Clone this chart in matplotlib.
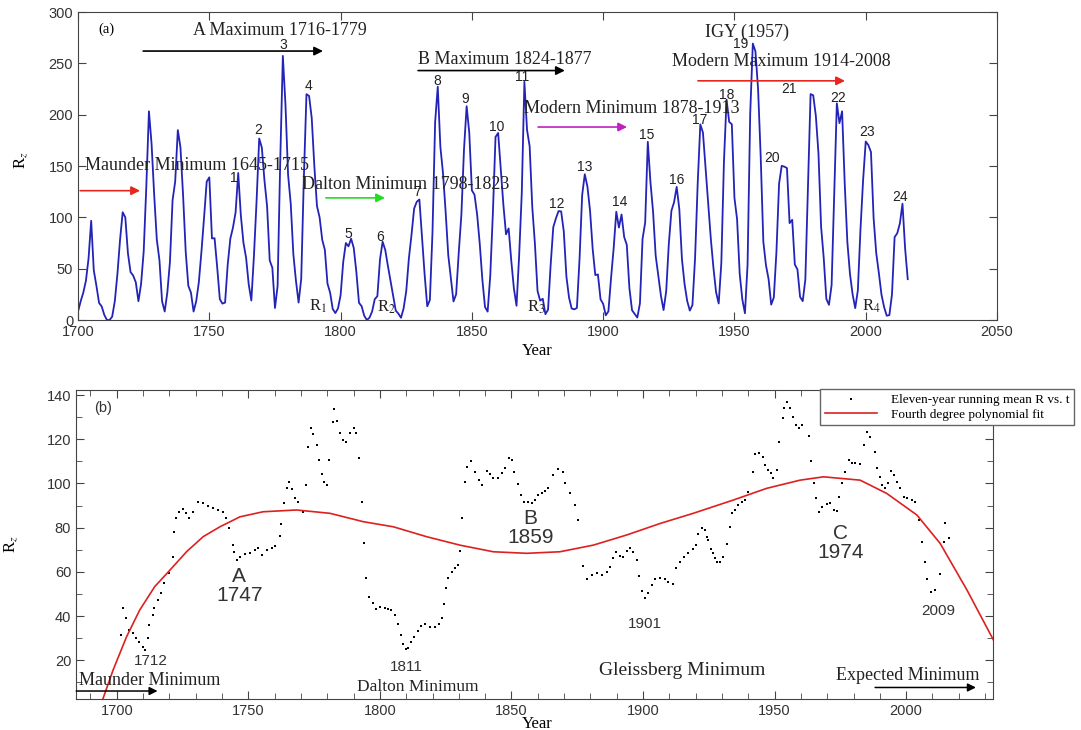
import numpy as np
import matplotlib
matplotlib.use("Agg")
import matplotlib.pyplot as plt
from matplotlib.ticker import MultipleLocator

plt.rcParams['font.family'] = ['Liberation Sans', 'DejaVu Sans']
plt.rcParams['mathtext.fontset'] = 'stix'

SERIF = ['Liberation Serif', 'DejaVu Serif']

# --- panel (a): yearly sunspot number, 1700-2016 ---
years_a = np.arange(1700, 2017)
rz_yearly = [
    8.3, 18.3, 26.7, 38.3, 60.0, 96.7, 48.3, 33.3, 16.7, 13.3,
    5.0, 0.0, 0.0, 3.3, 18.3, 45.0, 78.3, 105.0, 100.0, 65.0,
    46.7, 43.3, 36.7, 18.3, 35.0, 66.7, 130.0, 203.3, 171.7, 121.7,
    78.3, 58.3, 18.3, 8.3, 26.7, 56.7, 116.7, 135.0, 185.0, 168.3,
    121.7, 66.7, 33.3, 26.7, 8.3, 18.3, 36.7, 66.7, 100.0, 134.8,
    139.0, 79.5, 79.7, 51.2, 20.3, 16.0, 17.0, 54.0, 79.3, 90.0,
    104.8, 143.2, 102.0, 75.2, 60.7, 34.8, 19.0, 63.0, 116.3, 176.8,
    168.0, 136.0, 110.8, 58.0, 51.0, 11.7, 33.0, 154.2, 257.3, 209.8,
    141.3, 113.5, 64.2, 38.0, 17.0, 40.2, 138.2, 220.0, 218.2, 196.8,
    149.8, 111.0, 100.0, 78.2, 68.3, 35.5, 26.7, 10.7, 6.8, 11.3,
    24.2, 56.7, 75.0, 71.8, 79.2, 70.3, 46.8, 16.8, 13.5, 4.2,
    0.0, 2.3, 8.3, 20.3, 23.2, 59.0, 76.3, 68.3, 52.9, 38.5,
    24.2, 9.2, 6.3, 2.2, 11.4, 28.2, 59.9, 83.0, 108.5, 115.2,
    117.4, 80.8, 44.3, 13.4, 19.5, 85.8, 192.7, 227.3, 168.7, 143.0,
    105.5, 63.3, 40.3, 18.1, 25.1, 65.8, 102.7, 166.3, 208.3, 182.5,
    126.3, 122.0, 102.7, 74.1, 39.0, 12.7, 8.2, 43.4, 104.4, 178.3,
    182.2, 146.6, 112.1, 83.5, 89.2, 57.8, 30.7, 13.9, 62.8, 123.6,
    232.0, 185.3, 169.2, 110.1, 74.5, 28.3, 18.9, 20.7, 5.7, 10.0,
    53.7, 90.5, 99.0, 106.1, 105.8, 86.3, 42.4, 21.8, 11.2, 10.4,
    11.8, 59.5, 121.7, 142.0, 130.0, 106.6, 69.4, 43.8, 44.4, 20.2,
    15.7, 4.6, 8.5, 40.8, 70.1, 105.5, 90.1, 102.8, 80.9, 73.2,
    30.9, 9.5, 6.0, 2.4, 16.1, 79.0, 95.0, 173.6, 134.6, 105.7,
    62.7, 43.5, 23.7, 9.7, 27.9, 74.0, 106.5, 114.7, 129.7, 108.2,
    59.4, 35.1, 18.6, 9.2, 14.6, 60.2, 132.8, 190.6, 182.6, 148.0,
    113.0, 79.2, 50.8, 27.1, 16.1, 55.3, 154.3, 214.7, 193.0, 190.7,
    118.9, 98.3, 45.0, 20.1, 6.6, 54.2, 200.7, 269.3, 261.7, 225.1,
    159.0, 76.4, 53.4, 39.9, 15.0, 22.0, 66.8, 132.9, 150.2, 149.4,
    148.0, 94.4, 97.6, 54.1, 49.2, 22.5, 18.4, 39.3, 131.0, 220.1,
    218.9, 198.9, 162.4, 91.0, 60.5, 20.6, 14.8, 33.9, 123.0, 211.1,
    191.8, 203.3, 133.0, 76.1, 44.9, 25.1, 11.6, 28.9, 88.3, 136.3,
    173.9, 170.4, 163.6, 99.3, 65.3, 45.8, 24.7, 12.6, 4.2, 4.8,
    24.9, 80.8, 84.5, 94.0, 113.3, 69.8, 39.8,
]

# cycle numbers and where they sit (year, value)
cycle_labels = [str(i) for i in range(1, 25)]
cycle_x = [1759.4, 1768.5, 1778, 1787.6, 1802.8, 1815, 1829, 1836.7, 1847.4, 1859.5,
           1869, 1882.4, 1893, 1906.4, 1916.7, 1928.1, 1936.9, 1947.1, 1952.5, 1964.3,
           1970.7, 1989.4, 2000.4, 2013]
cycle_y = [138, 185, 268, 228, 84, 81, 125, 233, 215, 188,
           237, 113, 149, 115, 180, 136, 195, 219, 269, 158,
           225, 216, 183, 120]

# period names, arrows (start year, end year, level), colours
period_text = ["A Maximum 1716-1779", "Maunder Minimum 1645-1715", "Dalton Minimum 1798-1823",
               "B Maximum 1824-1877", "Modern Minimum 1878-1913", "Modern Maximum 1914-2008"]
period_text_x = [1743.8, 1702.5, 1785.3, 1829.5, 1869.8, 1926.2]
period_text_y = [282, 151, 132, 254, 206, 252]
arrow_x0 = [1724.8, 1700.8, 1794.4, 1829.5, 1875.2, 1936.1]
arrow_x1 = [1793.3, 1723.6, 1816.9, 1885.4, 1909.1, 1992.1]
arrow_y = [262, 126, 119, 243, 188, 233]
arrow_colors = ['black', '#e8251f', '#22dd22', 'black', '#c21fc2', '#e8251f']

minima_labels = ["R$_1$", "R$_2$", "R$_3$", "R$_4$"]
minima_x = [1791.4, 1817.5, 1874.5, 2002.3]
minima_y = [13, 12, 12, 13]

# --- panel (b): eleven-year running mean and 4th degree fit ---
mean_years = [
    1701.5, 1702.2, 1703.4, 1704.7, 1706.0, 1707.2, 1708.5, 1709.8, 1710.6, 1711.7,
    1712.3, 1713.6, 1714.2, 1715.5, 1716.7, 1718.0, 1719.9, 1721.2, 1721.8, 1722.4,
    1723.7, 1725.0, 1726.2, 1727.5, 1728.8, 1730.7, 1732.6, 1734.5, 1736.4, 1738.3,
    1740.2, 1741.4, 1742.5, 1744.0, 1744.6, 1745.5, 1746.8, 1748.7, 1750.6, 1752.5,
    1753.7, 1755.2, 1756.9, 1758.8, 1760.3, 1762.0, 1762.6, 1763.6, 1764.8, 1765.5,
    1766.7, 1767.9, 1768.9, 1770.6, 1772.1, 1772.7, 1774.0, 1774.6, 1776.2, 1776.8,
    1778.1, 1778.8, 1780.0, 1780.7, 1782.0, 1782.6, 1783.8, 1784.8, 1786.0, 1787.3,
    1788.6, 1790.1, 1791.1, 1792.1, 1793.3, 1794.0, 1794.9, 1795.9, 1797.2, 1798.4,
    1800.0, 1801.9, 1803.2, 1804.4, 1805.7, 1807.0, 1807.9, 1808.9, 1809.8, 1810.8,
    1811.8, 1813.1, 1814.3, 1815.6, 1817.1, 1819.0, 1820.9, 1822.4, 1823.5, 1824.5,
    1825.1, 1826.0, 1827.3, 1828.5, 1829.5, 1830.4, 1831.3, 1832.3, 1833.2, 1834.6,
    1836.1, 1837.6, 1838.9, 1840.6, 1841.8, 1843.1, 1844.8, 1846.3, 1847.5, 1849.0,
    1850.1, 1851.1, 1852.4, 1853.6, 1854.9, 1856.4, 1857.7, 1858.9, 1860.2, 1861.5,
    1862.6, 1864.0, 1865.9, 1867.8, 1869.5, 1870.3, 1872.2, 1874.1, 1875.4, 1877.3,
    1878.6, 1880.5, 1882.4, 1884.3, 1886.2, 1887.4, 1888.4, 1889.7, 1891.3, 1892.5,
    1893.8, 1895.1, 1896.3, 1897.6, 1898.6, 1899.5, 1900.8, 1902.0, 1903.3, 1904.6,
    1906.5, 1908.4, 1909.6, 1911.3, 1912.5, 1914.1, 1915.6, 1917.2, 1918.9, 1920.0,
    1921.0, 1922.3, 1923.5, 1924.2, 1924.8, 1925.7, 1926.7, 1927.4, 1928.0, 1929.3,
    1930.5, 1931.8, 1933.1, 1933.7, 1935.0, 1936.2, 1937.5, 1938.8, 1940.0, 1941.6,
    1942.6, 1944.1, 1945.5, 1946.4, 1947.6, 1948.7, 1949.5, 1950.8, 1951.7, 1953.0,
    1953.7, 1954.6, 1955.9, 1956.9, 1958.1, 1959.3, 1960.6, 1962.9, 1963.9, 1964.8,
    1965.7, 1966.9, 1968.2, 1969.8, 1971.1, 1972.4, 1973.6, 1974.6, 1975.8, 1976.8,
    1978.3, 1979.6, 1980.6, 1982.5, 1984.1, 1985.0, 1986.3, 1988.0, 1988.9, 1990.1,
    1991.0, 1992.0, 1993.0, 1994.3, 1995.2, 1996.5, 1997.7, 1999.0, 2000.3, 2002.2,
    2003.4, 2004.9, 2006.0, 2007.2, 2007.9, 2009.5, 2011.0, 2012.9, 2014.2, 2014.8,
    2016.1,
]
mean_rz = [
    31.4, 43.8, 39.0, 33.7, 32.2, 30.0, 28.4, 26.1, 24.6, 30.0,
    36.0, 40.5, 43.5, 47.2, 50.3, 54.8, 59.3, 66.8, 78.1, 84.2,
    87.2, 88.4, 86.5, 84.2, 87.2, 91.7, 91.0, 89.9, 89.0, 88.0,
    87.2, 84.2, 79.7, 72.1, 69.1, 65.3, 66.8, 67.9, 68.4, 69.9,
    70.6, 67.6, 69.9, 70.6, 71.8, 76.3, 81.5, 91.0, 97.8, 100.8,
    97.5, 93.5, 91.4, 86.9, 99.3, 116.6, 125.2, 122.2, 117.4, 110.6,
    104.1, 100.8, 99.3, 110.6, 127.6, 133.7, 128.2, 122.7, 119.6, 118.9,
    122.7, 124.9, 122.7, 111.4, 91.7, 72.9, 57.3, 48.7, 45.7, 43.2,
    44.2, 43.8, 43.0, 42.7, 40.5, 36.2, 31.4, 27.2, 24.9, 25.7,
    28.1, 30.6, 33.2, 35.5, 36.2, 35.2, 35.2, 36.2, 39.0, 45.3,
    52.5, 57.3, 59.8, 61.9, 63.1, 69.4, 84.5, 100.5, 107.6, 110.1,
    105.0, 101.5, 99.3, 105.6, 104.1, 102.3, 102.6, 104.6, 106.8, 111.6,
    110.6, 105.0, 99.6, 94.8, 91.4, 91.4, 91.0, 92.5, 94.8, 95.5,
    96.5, 98.0, 104.0, 106.5, 105.0, 100.3, 95.5, 90.2, 83.4, 62.6,
    57.0, 58.6, 59.3, 58.6, 60.0, 62.3, 66.4, 69.1, 67.3, 66.8,
    69.4, 70.6, 69.1, 65.3, 58.1, 51.3, 48.0, 50.3, 54.0, 57.0,
    57.3, 56.7, 55.5, 54.3, 61.6, 64.6, 66.8, 68.4, 70.3, 72.0,
    77.0, 80.0, 79.0, 75.9, 74.4, 70.3, 68.4, 66.1, 64.6, 64.3,
    66.8, 72.4, 80.4, 86.5, 88.0, 90.2, 91.7, 92.5, 96.3, 105.3,
    113.2, 113.6, 112.1, 108.3, 106.1, 104.6, 102.3, 106.1, 118.9, 129.5,
    134.0, 137.0, 134.0, 130.2, 126.4, 124.9, 126.4, 121.6, 110.1, 100.0,
    93.3, 87.2, 89.5, 90.5, 91.0, 88.0, 87.5, 94.0, 100.0, 105.3,
    110.6, 109.1, 109.1, 108.6, 117.4, 123.4, 121.1, 114.4, 106.8, 103.0,
    99.3, 97.8, 100.0, 105.6, 103.8, 100.8, 97.8, 94.0, 93.3, 92.5,
    91.7, 83.4, 73.6, 64.6, 57.0, 51.0, 51.8, 58.9, 73.6, 81.9,
    75.2,
]
fit_years = [1694.8, 1698.6, 1703.7, 1708.7, 1714.4, 1720.2, 1726.5, 1732.8, 1739.2, 1746.8,
             1755.6, 1768.3, 1781.0, 1793.7, 1805.1, 1817.8, 1830.4, 1843.1, 1855.8, 1868.4,
             1881.1, 1893.8, 1906.5, 1919.1, 1934.3, 1947.0, 1959.7, 1968.6, 1982.5, 1992.6,
             2004.1, 2012.9, 2023.1, 2033.2]
fit_rz = [2.8, 15.6, 30.6, 42.7, 53.3, 60.8, 69.1, 75.9, 80.4, 84.9,
          87.2, 88.0, 86.5, 82.7, 80.4, 75.9, 72.1, 69.1, 68.4, 69.1,
          72.1, 76.7, 81.9, 86.5, 92.5, 97.8, 101.5, 103.0, 101.5, 95.5,
          85.7, 72.9, 51.8, 29.1]

# labels in panel (b)
b_big_labels = ["A\n1747", "B\n1859", "C\n1974"]
b_big_x = [1746.5, 1857.2, 1975.2]
b_big_y = [53.5, 80, 73]
b_small_labels = ["1712", "1811", "1901", "2009"]
b_small_x = [1712.9, 1810.0, 1900.8, 2012.3]
b_small_y = [19.6, 17.0, 36.2, 42.4]
b_min_text = ["Maunder Minimum", "Dalton Minimum", "Gleissberg Minimum", "Expected Minimum"]
b_min_x = [1685.6, 1814.4, 1914.8, 2000.5]
b_min_y = [11.0, 8.0, 15.6, 13.0]
b_min_ha = ['left', 'center', 'center', 'center']
b_min_size = [13, 12.5, 14, 13]
b_arrow_x0 = [1684.6, 1988.2]
b_arrow_x1 = [1715.5, 2026.5]
b_arrow_y = [6.1, 7.7]


fig = plt.figure(figsize=(10.81, 7.30), dpi=100)
tick_color = '#333333'

# ---------------- panel (a) ----------------
ax1 = fig.add_axes([0.0722, 0.5616, 0.8501, 0.4219])
ax1.plot(years_a, rz_yearly, color='#2323b8', lw=1.3)
ax1.set_xlim(1700, 2050)
ax1.set_ylim(0, 300)
ax1.xaxis.set_major_locator(MultipleLocator(50))
ax1.yaxis.set_major_locator(MultipleLocator(50))
ax1.tick_params(direction='in', top=True, right=True, length=6, labelsize=10.5,
                labelcolor=tick_color, colors='#444444')
for sp in ax1.spines.values():
    sp.set_color('#444444')
ax1.set_xlabel("Year", family=SERIF, fontsize=12)
ax1.xaxis.set_label_coords(0.5, -0.075)
ax1.set_ylabel("R$_z$", family=SERIF, fontsize=12)
ax1.yaxis.set_label_coords(-0.052, 0.52)

ax1.text(1711, 283, "(a)", family=SERIF, fontsize=10.5, ha='center', va='center')
ax1.text(1954.7, 280, "IGY (1957)", family=SERIF, fontsize=13, ha='center', va='center',
         color='#222222')

for lab, x, y in zip(cycle_labels, cycle_x, cycle_y):
    ax1.text(x, y, lab, fontsize=10, ha='center', va='center', color='#222222')

for txt, x, y in zip(period_text, period_text_x, period_text_y):
    ax1.text(x, y, txt, family=SERIF, fontsize=13, ha='left', va='center', color='#222222')

for x0, x1, y, c in zip(arrow_x0, arrow_x1, arrow_y, arrow_colors):
    ax1.annotate('', xy=(x1, y), xytext=(x0, y),
                 arrowprops=dict(arrowstyle='-|>', color=c, lw=1.2, mutation_scale=13,
                                 shrinkA=0, shrinkB=0))

for lab, x, y in zip(minima_labels, minima_x, minima_y):
    ax1.text(x, y, lab, family=SERIF, fontsize=12, ha='center', va='center', color='#222222')

# ---------------- panel (b) ----------------
ax2 = fig.add_axes([0.0703, 0.0425, 0.8483, 0.4233])
ax2.plot(mean_years, mean_rz, 's', color='black', ms=1.8, mew=0,
         label="Eleven-year running mean R vs. t")
ax2.plot(fit_years, fit_rz, color='#dd2020', lw=1.2, label="Fourth degree polynomial fit")
ax2.set_xlim(1684.5, 2033)
ax2.set_ylim(2.5, 142.3)
ax2.xaxis.set_major_locator(MultipleLocator(50))
ax2.xaxis.set_minor_locator(MultipleLocator(10))
ax2.yaxis.set_minor_locator(MultipleLocator(10))
ax2.set_yticks([20, 40, 60, 80, 100, 120, 140])
ax2.tick_params(which='both', direction='in', top=True, right=True, labelsize=10.5,
                labelcolor=tick_color, colors='#444444')
ax2.tick_params(which='major', length=6)
ax2.tick_params(which='minor', length=4)
for sp in ax2.spines.values():
    sp.set_color('#444444')
ax2.set_xlabel("Year", family=SERIF, fontsize=12)
ax2.xaxis.set_label_coords(0.503, -0.055)
ax2.set_ylabel("R$_z$", family=SERIF, fontsize=12)
ax2.yaxis.set_label_coords(-0.061, 0.5)

ax2.text(1694.7, 134.1, "(b)", fontsize=10.5, ha='center', va='center', color='#333333')

for lab, x, y in zip(b_big_labels, b_big_x, b_big_y):
    ax2.text(x, y, lab, fontsize=15, ha='center', va='center', color='#333333',
             linespacing=1.0)
for lab, x, y in zip(b_small_labels, b_small_x, b_small_y):
    ax2.text(x, y, lab, fontsize=11, ha='center', va='center', color='#333333')
for txt, x, y, ha, fs in zip(b_min_text, b_min_x, b_min_y, b_min_ha, b_min_size):
    ax2.text(x, y, txt, family=SERIF, fontsize=fs, ha=ha, va='center', color='#222222')
for x0, x1, y in zip(b_arrow_x0, b_arrow_x1, b_arrow_y):
    ax2.annotate('', xy=(x1, y), xytext=(x0, y),
                 arrowprops=dict(arrowstyle='-|>', color='black', lw=1.1, mutation_scale=12,
                                 shrinkA=0, shrinkB=0))

leg = ax2.legend(loc='upper left', bbox_to_anchor=(0.7586, 0.4665),
                 bbox_transform=fig.transFigure, prop={'family': SERIF, 'size': 9.5},
                 frameon=True, fancybox=False, edgecolor='#666666', framealpha=1,
                 handlelength=4.0, borderpad=0.35, labelspacing=0.15, markerscale=1.0,
                 borderaxespad=0, handletextpad=1.0)
leg.get_frame().set_linewidth(1.0)

fig.savefig("out.png", dpi=100)
